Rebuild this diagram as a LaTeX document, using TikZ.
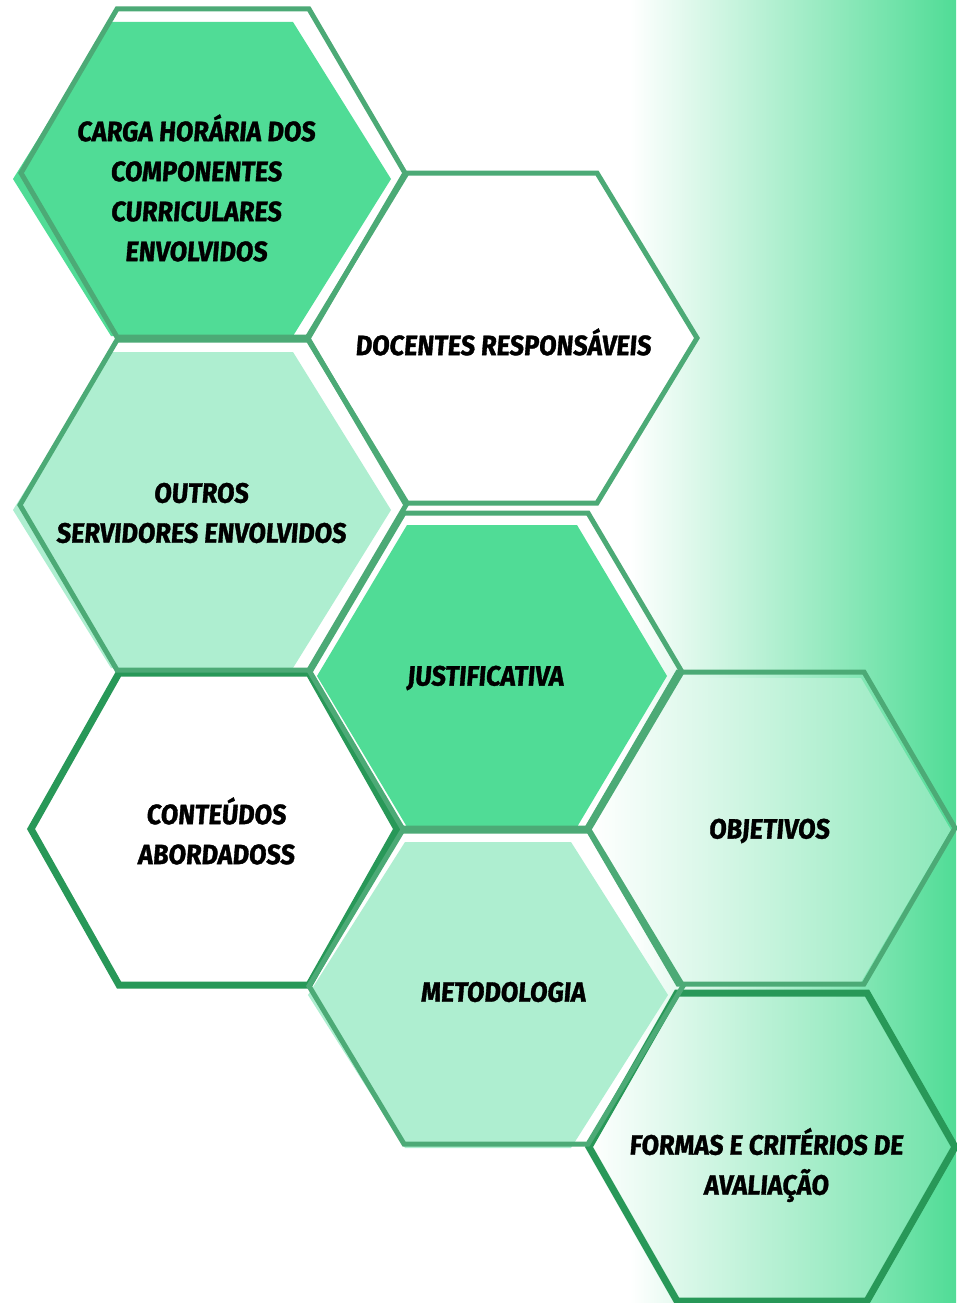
\documentclass[tikz,border=0pt]{standalone}
\usepackage{fontspec}
\newfontfamily\hexfont{Fira Sans}[FakeStretch=0.9,FakeSlant=0.08,FakeBold=1.2]
\definecolor{gmid}{RGB}{80,220,150}
\definecolor{glight}{RGB}{174,238,208}
\definecolor{gline}{RGB}{76,170,118}
\definecolor{gdark}{RGB}{40,152,88}
\definecolor{gend}{RGB}{110,226,168}
\newcommand\hexshape[6]{\path[#1] ({#2-#4},#3) -- ({#2-#6},{#3-#5}) -- ({#2+#6},{#3-#5}) -- ({#2+#4},#3) -- ({#2+#6},{#3+#5}) -- ({#2-#6},{#3+#5}) -- cycle;}
\tikzset{
  outl/.style={draw=gline,line width=5pt,line join=miter},
  darkoutl/.style={draw=gdark,line width=7pt,line join=miter},
  lbl/.style={text=black,align=center,inner sep=0pt,font=\hexfont\bfseries\fontsize{28}{40}\selectfont}
}
\begin{document}
\begin{tikzpicture}[x=1pt,y=-1pt]
\useasboundingbox (0,0) rectangle (956,1303);
% background
\fill[white] (0,0) rectangle (956,1303);
\shade[left color=white,right color=gmid] (630,0) rectangle (956,1303);
% fills
\hexshape{fill=gmid}{202}{179}{189}{157}{91}
\hexshape{fill=white}{502}{338}{195}{165}{95}
\hexshape{fill=glight}{202}{510}{189}{158}{91}
\hexshape{fill=gmid}{492}{676}{175}{151}{85}
\hexshape{fill=white}{214}{829}{183}{156}{95}
\hexshape{left color=white,right color=gend!80!white}{771}{830}{180}{152}{90}
\hexshape{fill=glight}{488}{995}{180}{153}{83}
\hexshape{left color=white,right color=gend}{772}{1147}{183}{154}{95}
% outlines
\hexshape{darkoutl}{214}{829}{183}{156}{95}
\hexshape{darkoutl}{772}{1147}{183}{154}{95}
\hexshape{outl}{213}{173}{192}{164}{96}
\hexshape{outl}{502}{338}{195}{165}{95}
\hexshape{outl}{213}{505}{193}{165}{96}
\hexshape{outl}{496}{672}{186}{159}{92}
\hexshape{outl}{771}{828}{184}{156}{93}
\hexshape{outl}{496}{986}{187}{158}{92}
% labels
\node[lbl] (carga) at (196,188) {CARGA HORÁRIA DOS\\COMPONENTES\\CURRICULARES\\ENVOLVIDOS};
\node[lbl] (docentes) at (503,342) {DOCENTES RESPONSÁVEIS};
\node[lbl] (outros) at (201,513) {OUTROS\\SERVIDORES ENVOLVIDOS};
\node[lbl] (justif) at (485,678) {JUSTIFICATIVA};
\node[lbl] (conteudos) at (216,831) {CONTEÚDOS\\ABORDADOSS};
\node[lbl] (objetivos) at (769,831) {OBJETIVOS};
\node[lbl] (metodologia) at (503,992) {METODOLOGIA};
\node[lbl] (formas) at (766,1165) {FORMAS E CRITÉRIOS DE\\AVALIAÇÃO};
\end{tikzpicture}
\end{document}
